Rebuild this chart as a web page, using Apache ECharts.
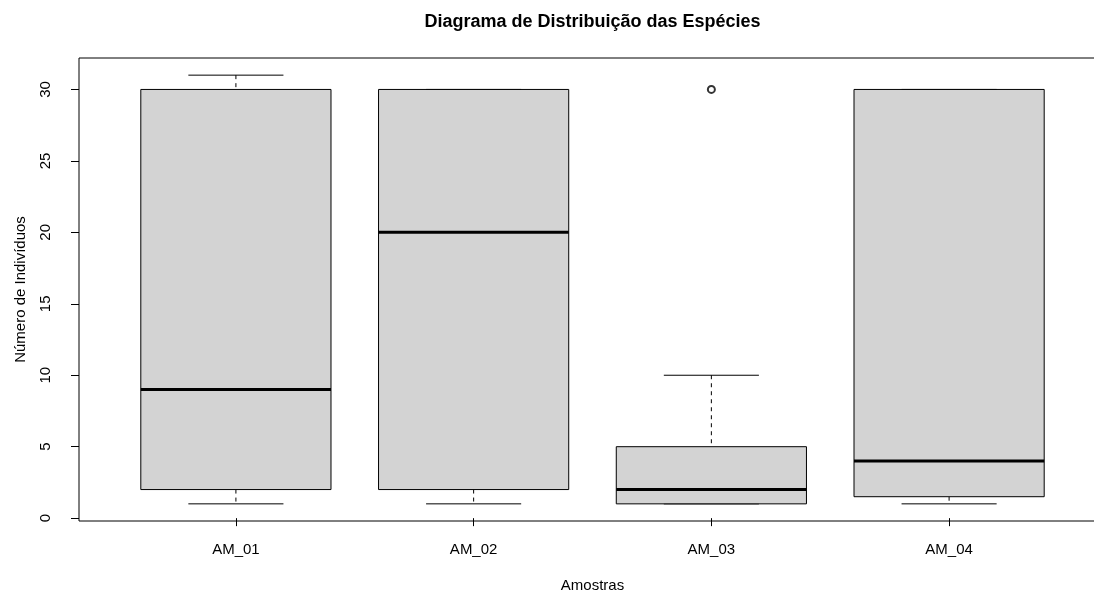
<!DOCTYPE html>
<html>
<head>
<meta charset="utf-8">
<script src="https://cdn.jsdelivr.net/npm/echarts@6/dist/echarts.min.js"></script>
<style>
  html, body { margin: 0; padding: 0; background: #fff; }
  #chart { width: 1094px; height: 593px; }
</style>
</head>
<body>
<div id="chart"></div>
<script>
// Five-number summaries per sample
const categories   = ['AM_01', 'AM_02', 'AM_03', 'AM_04'];
const lowerWhisker = [1, 1, 1, 1];
const q1           = [2, 2, 1, 1.5];
const median       = [9, 20, 2, 4];
const q3           = [30, 30, 5, 30];
const upperWhisker = [31, 30, 10, 30];

// Points beyond the whiskers
const outlierCategory = ['AM_03'];
const outlierValue    = [30];

const yTicks = [0, 5, 10, 15, 20, 25, 30];

const FONT = 'Liberation Sans, Arial, Helvetica, sans-serif';
const INK = '#000';

// Position of each sample on the numeric x scale (1..n)
const positions = categories.map((c, i) => i + 1);

const boxData = categories.map((c, i) => [
  positions[i], lowerWhisker[i], q1[i], median[i], q3[i], upperWhisker[i]
]);
const outlierData = outlierCategory.map((c, i) => [categories.indexOf(c) + 1, outlierValue[i]]);

const BOX_WEX = 0.8;   // box width in x units
const STAPLE = 0.5;    // cap width relative to box width

function renderBox(params, api) {
  const x = api.value(0);
  const cx = api.coord([x, 0])[0];
  const y = k => api.coord([x, api.value(k)])[1];
  const yMin = y(1), yQ1 = y(2), yMed = y(3), yQ3 = y(4), yMax = y(5);
  const boxW = api.size([BOX_WEX, 0])[0];
  const capW = boxW * STAPLE;
  const dashed = { stroke: INK, lineWidth: 1, lineDash: [4, 4] };
  const solid = { stroke: INK, lineWidth: 1 };
  return {
    type: 'group',
    children: [
      { type: 'line', shape: { x1: cx, y1: yMax, x2: cx, y2: yQ3 }, style: dashed },
      { type: 'line', shape: { x1: cx, y1: yQ1, x2: cx, y2: yMin }, style: dashed },
      { type: 'line', shape: { x1: cx - capW / 2, y1: yMax, x2: cx + capW / 2, y2: yMax }, style: solid },
      { type: 'line', shape: { x1: cx - capW / 2, y1: yMin, x2: cx + capW / 2, y2: yMin }, style: solid },
      { type: 'rect', shape: { x: cx - boxW / 2, y: yQ3, width: boxW, height: yQ1 - yQ3 },
        style: { fill: '#d3d3d3', stroke: INK, lineWidth: 1 } },
      { type: 'line', shape: { x1: cx - boxW / 2, y1: yMed, x2: cx + boxW / 2, y2: yMed },
        style: { stroke: INK, lineWidth: 3 } }
    ]
  };
}

const chart = echarts.init(document.getElementById('chart'), null, { renderer: 'canvas' });

chart.setOption({
  animation: false,
  backgroundColor: '#fff',
  textStyle: { fontFamily: FONT },
  // plot frame runs past the right edge of the canvas
  grid: {
    left: 79, top: 58, width: 1027, bottom: 72,
    containLabel: false,
    outerBoundsMode: 'none',
    show: true, borderColor: INK, borderWidth: 1, backgroundColor: 'transparent'
  },
  graphic: [{
    type: 'text',
    x: 592.5, y: 22,
    style: {
      text: 'Diagrama de Distribuição das Espécies',
      font: 'bold 18px ' + FONT,
      fill: INK,
      textAlign: 'center',
      textVerticalAlign: 'middle'
    }
  }],
  xAxis: {
    type: 'value',
    min: 0.34, max: 4.66,
    axisLine: { show: false },
    splitLine: { show: false },
    axisTick: { show: true, length: 8, customValues: positions, lineStyle: { color: INK } },
    axisLabel: {
      customValues: positions,
      formatter: v => categories[Math.round(v) - 1] || '',
      fontSize: 15, color: INK, margin: 21, fontFamily: FONT
    },
    name: 'Amostras',
    nameLocation: 'middle',
    nameGap: 57,
    nameTextStyle: { fontSize: 15, color: INK, fontFamily: FONT }
  },
  yAxis: {
    type: 'value',
    min: -0.2, max: 32.2,
    axisLine: { show: false },
    splitLine: { show: false },
    axisTick: { show: true, length: 8, customValues: yTicks, lineStyle: { color: INK } },
    axisLabel: {
      customValues: yTicks,
      rotate: 90,
      fontSize: 15, color: INK, margin: 26, fontFamily: FONT
    },
    name: 'Número de Indivíduos',
    nameLocation: 'middle',
    nameGap: 51,
    nameTextStyle: { fontSize: 15, color: INK, fontFamily: FONT }
  },
  series: [
    {
      type: 'custom',
      renderItem: renderBox,
      data: boxData,
      encode: { x: 0, y: [1, 2, 3, 4, 5] },
      clip: false,
      z: 2
    },
    {
      type: 'scatter',
      data: outlierData,
      symbol: 'emptyCircle',
      symbolSize: 7,
      itemStyle: { color: INK, borderColor: INK, borderWidth: 1 },
      z: 3
    }
  ]
});
</script>
</body>
</html>
